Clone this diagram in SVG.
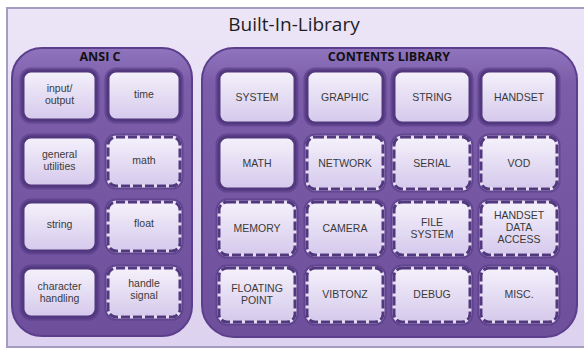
<svg xmlns="http://www.w3.org/2000/svg" width="584" height="351" viewBox="0 0 584 351">
  <defs>
    <linearGradient id="frameFill" x1="0" y1="0" x2="0" y2="1">
      <stop offset="0" stop-color="#ece5f7"/>
      <stop offset="1" stop-color="#ddd2ef"/>
    </linearGradient>
    <linearGradient id="panelFill" x1="0" y1="0" x2="0" y2="1">
      <stop offset="0" stop-color="#9074bd"/>
      <stop offset="0.12" stop-color="#7c5daa"/>
      <stop offset="1" stop-color="#6e4f9c"/>
    </linearGradient>
    <linearGradient id="boxFill" x1="0" y1="0" x2="0" y2="1">
      <stop offset="0" stop-color="#f5f1fb"/>
      <stop offset="1" stop-color="#d5c9ec"/>
    </linearGradient>
    <style>
      .frame { fill: url(#frameFill); stroke: #a59cc2; stroke-width: 2; }
      .panel { fill: url(#panelFill); stroke: #5c3f8c; stroke-width: 2; }
      .halo { fill: none; stroke: #553a84; stroke-width: 7; stroke-opacity: 0.6; }
      .box { fill: url(#boxFill); stroke: #52387f; stroke-width: 3; }
      .dbox { fill: url(#boxFill); stroke: #e6def3; stroke-width: 3; }
      .dash { fill: none; stroke: #52387f; stroke-width: 3; stroke-dasharray: 9 3; }
      .title { font-family: "Open Sans", "Liberation Sans", sans-serif; font-size: 19px; fill: #1e1e1e; text-anchor: middle; }
      .head { font-family: "Open Sans", "Liberation Sans", sans-serif; font-size: 12.5px; font-weight: bold; fill: #111; text-anchor: middle; }
      .lbl { font-family: "Liberation Sans", "Open Sans", sans-serif; font-size: 10.5px; fill: #3a3a3a; text-anchor: middle; }
    </style>
  </defs>

  <!-- outer frame -->
  <rect class="frame" x="7" y="8" width="590" height="339"/>
  <text class="title" x="294" y="31">Built-In-Library</text>

  <!-- ANSI C panel -->
  <g id="panel-ansi">
    <rect class="panel" x="12" y="48" width="180" height="288" rx="30"/>
    <text class="head" x="100" y="61">ANSI C</text>
  </g>

  <!-- contents library panel -->
  <g id="panel-contents">
    <rect class="panel" x="202" y="48" width="375" height="289" rx="32"/>
    <text class="head" x="389" y="61">CONTENTS LIBRARY</text>
  </g>

  <!-- ANSI C modules -->
  <g id="ansi-io">
    <rect class="halo" x="23" y="71" width="73" height="49" rx="8"/>
    <rect class="box" x="23" y="71" width="73" height="49" rx="8"/>
    <text class="lbl" x="59.5" y="92">input/</text>
    <text class="lbl" x="59.5" y="104">output</text>
  </g>
  <g id="ansi-time">
    <rect class="halo" x="108" y="71" width="72" height="49" rx="8"/>
    <rect class="box" x="108" y="71" width="72" height="49" rx="8"/>
    <text class="lbl" x="144" y="98">time</text>
  </g>
  <g id="ansi-general">
    <rect class="halo" x="23" y="137" width="73" height="49" rx="8"/>
    <rect class="box" x="23" y="137" width="73" height="49" rx="8"/>
    <text class="lbl" x="59.5" y="158">general</text>
    <text class="lbl" x="59.5" y="170">utilities</text>
  </g>
  <g id="ansi-math">
    <rect class="halo" x="108" y="137" width="72" height="49" rx="8"/>
    <rect class="dbox" x="108" y="137" width="72" height="49" rx="8"/>
    <rect class="dash" x="108" y="137" width="72" height="49" rx="8"/>
    <text class="lbl" x="144" y="164">math</text>
  </g>
  <g id="ansi-string">
    <rect class="halo" x="23" y="202" width="73" height="49" rx="8"/>
    <rect class="box" x="23" y="202" width="73" height="49" rx="8"/>
    <text class="lbl" x="59.5" y="228">string</text>
  </g>
  <g id="ansi-float">
    <rect class="halo" x="108" y="202" width="72" height="49" rx="8"/>
    <rect class="dbox" x="108" y="202" width="72" height="49" rx="8"/>
    <rect class="dash" x="108" y="202" width="72" height="49" rx="8"/>
    <text class="lbl" x="144" y="227">float</text>
  </g>
  <g id="ansi-character">
    <rect class="halo" x="23" y="268" width="73" height="49" rx="8"/>
    <rect class="box" x="23" y="268" width="73" height="49" rx="8"/>
    <text class="lbl" x="59.5" y="290">character</text>
    <text class="lbl" x="59.5" y="302">handling</text>
  </g>
  <g id="ansi-signal">
    <rect class="halo" x="108" y="268" width="72" height="49" rx="8"/>
    <rect class="dbox" x="108" y="268" width="72" height="49" rx="8"/>
    <rect class="dash" x="108" y="268" width="72" height="49" rx="8"/>
    <text class="lbl" x="144" y="287">handle</text>
    <text class="lbl" x="144" y="299">signal</text>
  </g>

  <!-- contents library modules: row 1 -->
  <g id="c-system">
    <rect class="halo" x="219" y="71" width="76" height="52" rx="8"/>
    <rect class="box" x="219" y="71" width="76" height="52" rx="8"/>
    <text class="lbl" x="257" y="101">SYSTEM</text>
  </g>
  <g id="c-graphic">
    <rect class="halo" x="307" y="71" width="76" height="52" rx="8"/>
    <rect class="box" x="307" y="71" width="76" height="52" rx="8"/>
    <text class="lbl" x="345" y="101">GRAPHIC</text>
  </g>
  <g id="c-string">
    <rect class="halo" x="394" y="71" width="76" height="52" rx="8"/>
    <rect class="box" x="394" y="71" width="76" height="52" rx="8"/>
    <text class="lbl" x="432" y="101">STRING</text>
  </g>
  <g id="c-handset">
    <rect class="halo" x="481" y="71" width="76" height="52" rx="8"/>
    <rect class="box" x="481" y="71" width="76" height="52" rx="8"/>
    <text class="lbl" x="519" y="101">HANDSET</text>
  </g>

  <!-- row 2 -->
  <g id="c-math">
    <rect class="halo" x="219" y="137" width="76" height="52" rx="8"/>
    <rect class="box" x="219" y="137" width="76" height="52" rx="8"/>
    <text class="lbl" x="257" y="167">MATH</text>
  </g>
  <g id="c-network">
    <rect class="halo" x="307" y="137" width="76" height="52" rx="8"/>
    <rect class="dbox" x="307" y="137" width="76" height="52" rx="8"/>
    <rect class="dash" x="307" y="137" width="76" height="52" rx="8"/>
    <text class="lbl" x="345" y="167">NETWORK</text>
  </g>
  <g id="c-serial">
    <rect class="halo" x="394" y="137" width="76" height="52" rx="8"/>
    <rect class="dbox" x="394" y="137" width="76" height="52" rx="8"/>
    <rect class="dash" x="394" y="137" width="76" height="52" rx="8"/>
    <text class="lbl" x="432" y="167">SERIAL</text>
  </g>
  <g id="c-vod">
    <rect class="halo" x="481" y="137" width="76" height="52" rx="8"/>
    <rect class="dbox" x="481" y="137" width="76" height="52" rx="8"/>
    <rect class="dash" x="481" y="137" width="76" height="52" rx="8"/>
    <text class="lbl" x="519" y="167">VOD</text>
  </g>

  <!-- row 3 -->
  <g id="c-memory">
    <rect class="halo" x="219" y="202" width="76" height="53" rx="8"/>
    <rect class="dbox" x="219" y="202" width="76" height="53" rx="8"/>
    <rect class="dash" x="219" y="202" width="76" height="53" rx="8"/>
    <text class="lbl" x="257" y="232">MEMORY</text>
  </g>
  <g id="c-camera">
    <rect class="halo" x="307" y="202" width="76" height="53" rx="8"/>
    <rect class="dbox" x="307" y="202" width="76" height="53" rx="8"/>
    <rect class="dash" x="307" y="202" width="76" height="53" rx="8"/>
    <text class="lbl" x="345" y="232">CAMERA</text>
  </g>
  <g id="c-filesystem">
    <rect class="halo" x="394" y="202" width="76" height="53" rx="8"/>
    <rect class="dbox" x="394" y="202" width="76" height="53" rx="8"/>
    <rect class="dash" x="394" y="202" width="76" height="53" rx="8"/>
    <text class="lbl" x="432" y="226">FILE</text>
    <text class="lbl" x="432" y="238">SYSTEM</text>
  </g>
  <g id="c-handsetdata">
    <rect class="halo" x="481" y="202" width="76" height="53" rx="8"/>
    <rect class="dbox" x="481" y="202" width="76" height="53" rx="8"/>
    <rect class="dash" x="481" y="202" width="76" height="53" rx="8"/>
    <text class="lbl" x="519" y="219">HANDSET</text>
    <text class="lbl" x="519" y="231">DATA</text>
    <text class="lbl" x="519" y="243">ACCESS</text>
  </g>

  <!-- row 4 -->
  <g id="c-floating">
    <rect class="halo" x="219" y="268" width="76" height="54" rx="8"/>
    <rect class="dbox" x="219" y="268" width="76" height="54" rx="8"/>
    <rect class="dash" x="219" y="268" width="76" height="54" rx="8"/>
    <text class="lbl" x="257" y="292">FLOATING</text>
    <text class="lbl" x="257" y="304">POINT</text>
  </g>
  <g id="c-vibtonz">
    <rect class="halo" x="307" y="268" width="76" height="54" rx="8"/>
    <rect class="dbox" x="307" y="268" width="76" height="54" rx="8"/>
    <rect class="dash" x="307" y="268" width="76" height="54" rx="8"/>
    <text class="lbl" x="345" y="298">VIBTONZ</text>
  </g>
  <g id="c-debug">
    <rect class="halo" x="394" y="268" width="76" height="54" rx="8"/>
    <rect class="dbox" x="394" y="268" width="76" height="54" rx="8"/>
    <rect class="dash" x="394" y="268" width="76" height="54" rx="8"/>
    <text class="lbl" x="432" y="298">DEBUG</text>
  </g>
  <g id="c-misc">
    <rect class="halo" x="481" y="268" width="76" height="54" rx="8"/>
    <rect class="dbox" x="481" y="268" width="76" height="54" rx="8"/>
    <rect class="dash" x="481" y="268" width="76" height="54" rx="8"/>
    <text class="lbl" x="519" y="298">MISC.</text>
  </g>

  <!-- no connectors in this diagram -->
  <g id="connectors"/>
</svg>
